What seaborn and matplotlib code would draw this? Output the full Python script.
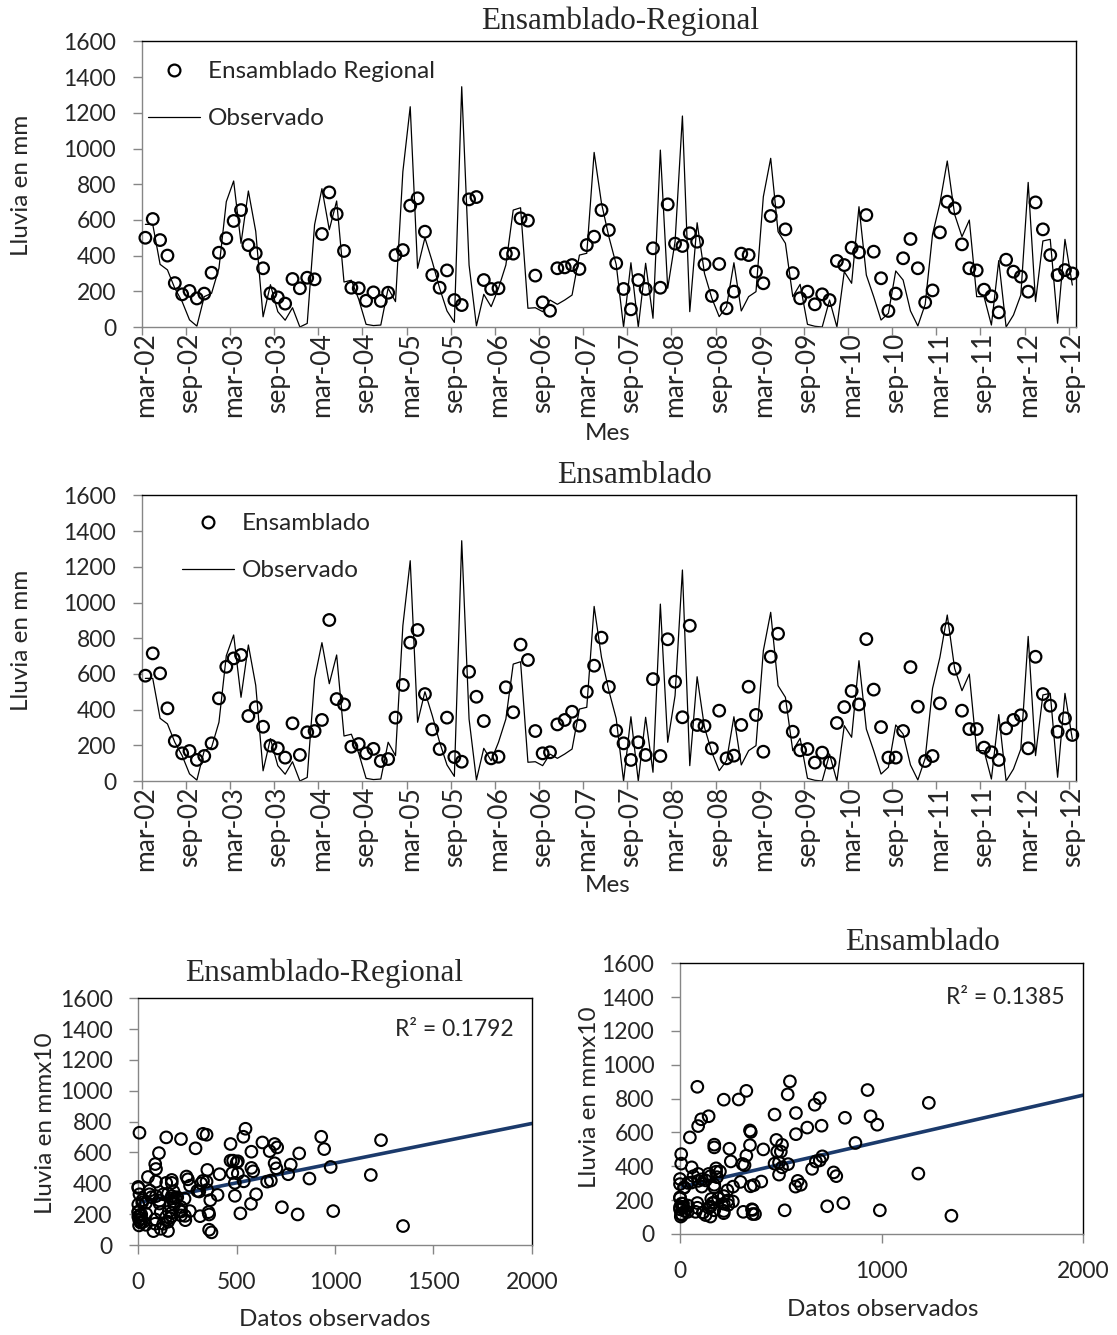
import numpy as np
import pandas as pd
import matplotlib
matplotlib.use("Agg")
import matplotlib.pyplot as plt
import seaborn as sns
from matplotlib.lines import Line2D

# Monthly rainfall, mar-02 .. sep-12 (127 months)
observado = [
    575, 575, 351, 320, 217, 142, 40, 5, 170, 189, 329, 702, 818, 469, 762, 536,
    57, 237, 86, 38, 108, 0, 20, 573, 775, 545, 706, 252, 262, 155, 15, 8,
    11, 217, 142, 870, 1234, 329, 500, 366, 217, 90, 26, 1346, 347, 6, 183, 114,
    217, 347, 655, 668, 105, 108, 86, 151, 127, 151, 179, 403, 413, 978, 693, 506,
    350, 0, 360, 0, 357, 49, 991, 217, 478, 1182, 86, 584, 300, 161, 58, 114,
    360, 90, 170, 198, 730, 945, 534, 469, 170, 239, 15, 4, 0, 151, 0, 310,
    245, 674, 291, 170, 39, 77, 314, 263, 90, 6, 127, 519, 693, 930, 631, 506,
    599, 170, 170, 11, 372, 0, 67, 179, 810, 142, 482, 491, 21, 491, 235,
]

ens_regional = [
    500, 605, 487, 400, 246, 183, 202, 160, 187, 304, 416, 497, 594, 655, 459, 413,
    329, 189, 166, 131, 269, 217, 276, 267, 521, 754, 633, 426, 220, 217, 147, 194,
    146, 192, 403, 431, 680, 721, 534, 291, 220, 317, 151, 123, 715, 728, 263, 213,
    217, 411, 411, 609, 596, 288, 138, 91, 329, 334, 347, 325, 459, 506, 655, 543,
    357, 213, 99, 263, 213, 441, 220, 687, 467, 454, 525, 478, 351, 174, 353, 105,
    198, 411, 403, 310, 245, 622, 702, 547, 302, 161, 198, 127, 183, 151, 370, 347,
    444, 418, 627, 422, 273, 90, 187, 385, 493, 329, 138, 205, 530, 702, 665, 463,
    329, 317, 209, 172, 82, 377, 310, 282, 198, 698, 547, 403, 291, 319, 300,
]

ensamblado = [
    590, 715, 603, 407, 224, 155, 168, 118, 140, 211, 463, 640, 687, 706, 364, 413,
    304, 198, 183, 131, 323, 146, 273, 280, 342, 902, 459, 429, 192, 207, 155, 180,
    112, 123, 355, 538, 775, 846, 487, 289, 179, 355, 134, 108, 612, 472, 336, 127,
    136, 525, 385, 764, 678, 280, 155, 161, 317, 342, 388, 310, 500, 646, 803, 527,
    282, 211, 118, 217, 146, 571, 140, 794, 556, 357, 870, 314, 308, 183, 394, 127,
    142, 314, 528, 370, 164, 696, 825, 416, 276, 172, 179, 103, 159, 103, 325, 414,
    504, 429, 795, 512, 302, 131, 131, 280, 638, 416, 112, 140, 435, 851, 629, 394,
    291, 291, 187, 161, 118, 295, 342, 368, 183, 696, 487, 422, 276, 351, 258,
]

etiquetas_mes = [
    "mar-02", "sep-02", "mar-03", "sep-03", "mar-04", "sep-04", "mar-05", "sep-05",
    "mar-06", "sep-06", "mar-07", "sep-07", "mar-08", "sep-08", "mar-09", "sep-09",
    "mar-10", "sep-10", "mar-11", "sep-11", "mar-12", "sep-12",
]

r2_regional = "R² = 0.1792"
r2_ensamblado = "R² = 0.1385"

W, H = 1117, 1335
sns.set_theme(style="ticks")
plt.rcParams["font.family"] = ["Lato", "DejaVu Sans"]
SERIF = ["Liberation Serif", "DejaVu Serif"]
FS = 16.5
FS_MES = 19
AXIS_GRAY = "#868686"
NAVY = "#1B3A6B"

fig = plt.figure(figsize=(W / 100, H / 100), dpi=100)


def rect(l, r, t, b):
    return [l / W, 1 - b / H, (r - l) / W, (b - t) / H]


def ftext(x, y, s, **kw):
    fig.text(x / W, 1 - y / H, s, ha=kw.pop("ha", "center"), va=kw.pop("va", "center"), **kw)


def style_box(ax):
    for side in ("left", "bottom"):
        ax.spines[side].set_color(AXIS_GRAY)
        ax.spines[side].set_linewidth(1.0)
    for side in ("top", "right"):
        ax.spines[side].set_visible(True)
        ax.spines[side].set_color("black")
        ax.spines[side].set_linewidth(1.0)


n = len(observado)
meses = np.arange(n)


def serie(ax, est, nombre, leg_xy):
    df = pd.DataFrame({"mes": meses, "obs": observado, "est": est})
    sns.lineplot(data=df, x="mes", y="obs", ax=ax, color="black", linewidth=0.9, zorder=2)
    sns.scatterplot(data=df, x="mes", y="est", ax=ax, marker="o", s=70,
                    facecolors="none", edgecolor="black", linewidth=1.6, zorder=3,
                    clip_on=False)
    ax.set_xlim(-0.5, n - 0.5)
    ax.set_ylim(0, 1600)
    ax.set_yticks(range(0, 1601, 200))
    ax.set_xticks(np.arange(0, n, 6))
    ax.set_xticklabels(etiquetas_mes, rotation=90)
    ax.set_xticks(np.arange(-0.5, n, 6), minor=True)
    ax.tick_params(axis="x", which="major", length=0, pad=4, labelsize=FS_MES)
    ax.tick_params(axis="x", which="minor", length=6, color=AXIS_GRAY, width=1)
    ax.tick_params(axis="y", length=6.5, color=AXIS_GRAY, width=1, pad=12, labelsize=FS)
    ax.set_xlabel("")
    ax.set_ylabel("")
    style_box(ax)
    handles = [
        Line2D([], [], marker="o", linestyle="none", markerfacecolor="none",
               markeredgecolor="black", markeredgewidth=1.6, markersize=8.5),
        Line2D([], [], color="black", linewidth=0.9),
    ]
    ax.legend(handles, [nombre, "Observado"], loc="upper left",
              bbox_to_anchor=(leg_xy[0] / W, 1 - leg_xy[1] / H),
              bbox_transform=fig.transFigure, frameon=False, fontsize=FS + 1,
              handlelength=2.15, handletextpad=0.3, labelspacing=1.08,
              borderpad=0, borderaxespad=0)


ax1 = fig.add_axes(rect(141.7, 1076, 41.4, 327))
serie(ax1, ens_regional, "Ensamblado Regional", (148, 61))
ftext(620.5, 21, "Ensamblado-Regional", family=SERIF, fontsize=22.5)
ftext(22, 185, "Lluvia en mm", rotation=90, fontsize=FS + 1)
ftext(608, 433, "Mes", fontsize=FS + 1)

ax2 = fig.add_axes(rect(141.7, 1076, 495.4, 781))
serie(ax2, ensamblado, "Ensamblado", (182, 513))
ftext(634.5, 476, "Ensamblado", family=SERIF, fontsize=22.5)
ftext(22, 640, "Lluvia en mm", rotation=90, fontsize=FS + 1)
ftext(608, 886, "Mes", fontsize=FS + 1)


def dispersion(ax, est, xticks, r2, r2_xy, title_xy, ylab_xy, xlab_xy, titulo):
    ax.set_xlim(0, 2000)
    ax.set_ylim(0, 1600)
    sns.regplot(x=np.array(observado, float), y=np.array(est, float), ax=ax,
                ci=None, truncate=False, marker="o",
                scatter_kws=dict(s=70, facecolors="none", edgecolors="black",
                                 linewidths=1.5, alpha=1, clip_on=False, zorder=3),
                line_kws=dict(color=NAVY, linewidth=2.6, zorder=2))
    ax.set_xlim(0, 2000)
    ax.set_ylim(0, 1600)
    ax.set_xticks(xticks)
    ax.set_yticks(range(0, 1601, 200))
    ax.tick_params(axis="both", length=6.5, color=AXIS_GRAY, width=1, labelsize=FS)
    ax.tick_params(axis="y", pad=12)
    ax.tick_params(axis="x", pad=13)
    ax.set_xlabel("")
    ax.set_ylabel("")
    style_box(ax)
    ftext(r2_xy[0], r2_xy[1], r2, ha="right", fontsize=FS)
    ftext(title_xy[0], title_xy[1], titulo, family=SERIF, fontsize=22.5)
    ftext(ylab_xy[0], ylab_xy[1], "Lluvia en mmx10", rotation=90, fontsize=FS + 1)
    ftext(xlab_xy[0], xlab_xy[1], "Datos observados", fontsize=FS + 1)


ax3 = fig.add_axes(rect(138.3, 531.7, 998.3, 1245))
dispersion(ax3, ens_regional, [0, 500, 1000, 1500, 2000], r2_regional, (514, 1030),
           (324, 973), (46, 1123), (335, 1320), "Ensamblado-Regional")

ax4 = fig.add_axes(rect(680, 1083.3, 963.3, 1234))
dispersion(ax4, ensamblado, [0, 1000, 2000], r2_ensamblado, (1065, 998),
           (923, 943), (589, 1097), (883, 1310), "Ensamblado")

fig.savefig("out.png", dpi=100, facecolor="white")
